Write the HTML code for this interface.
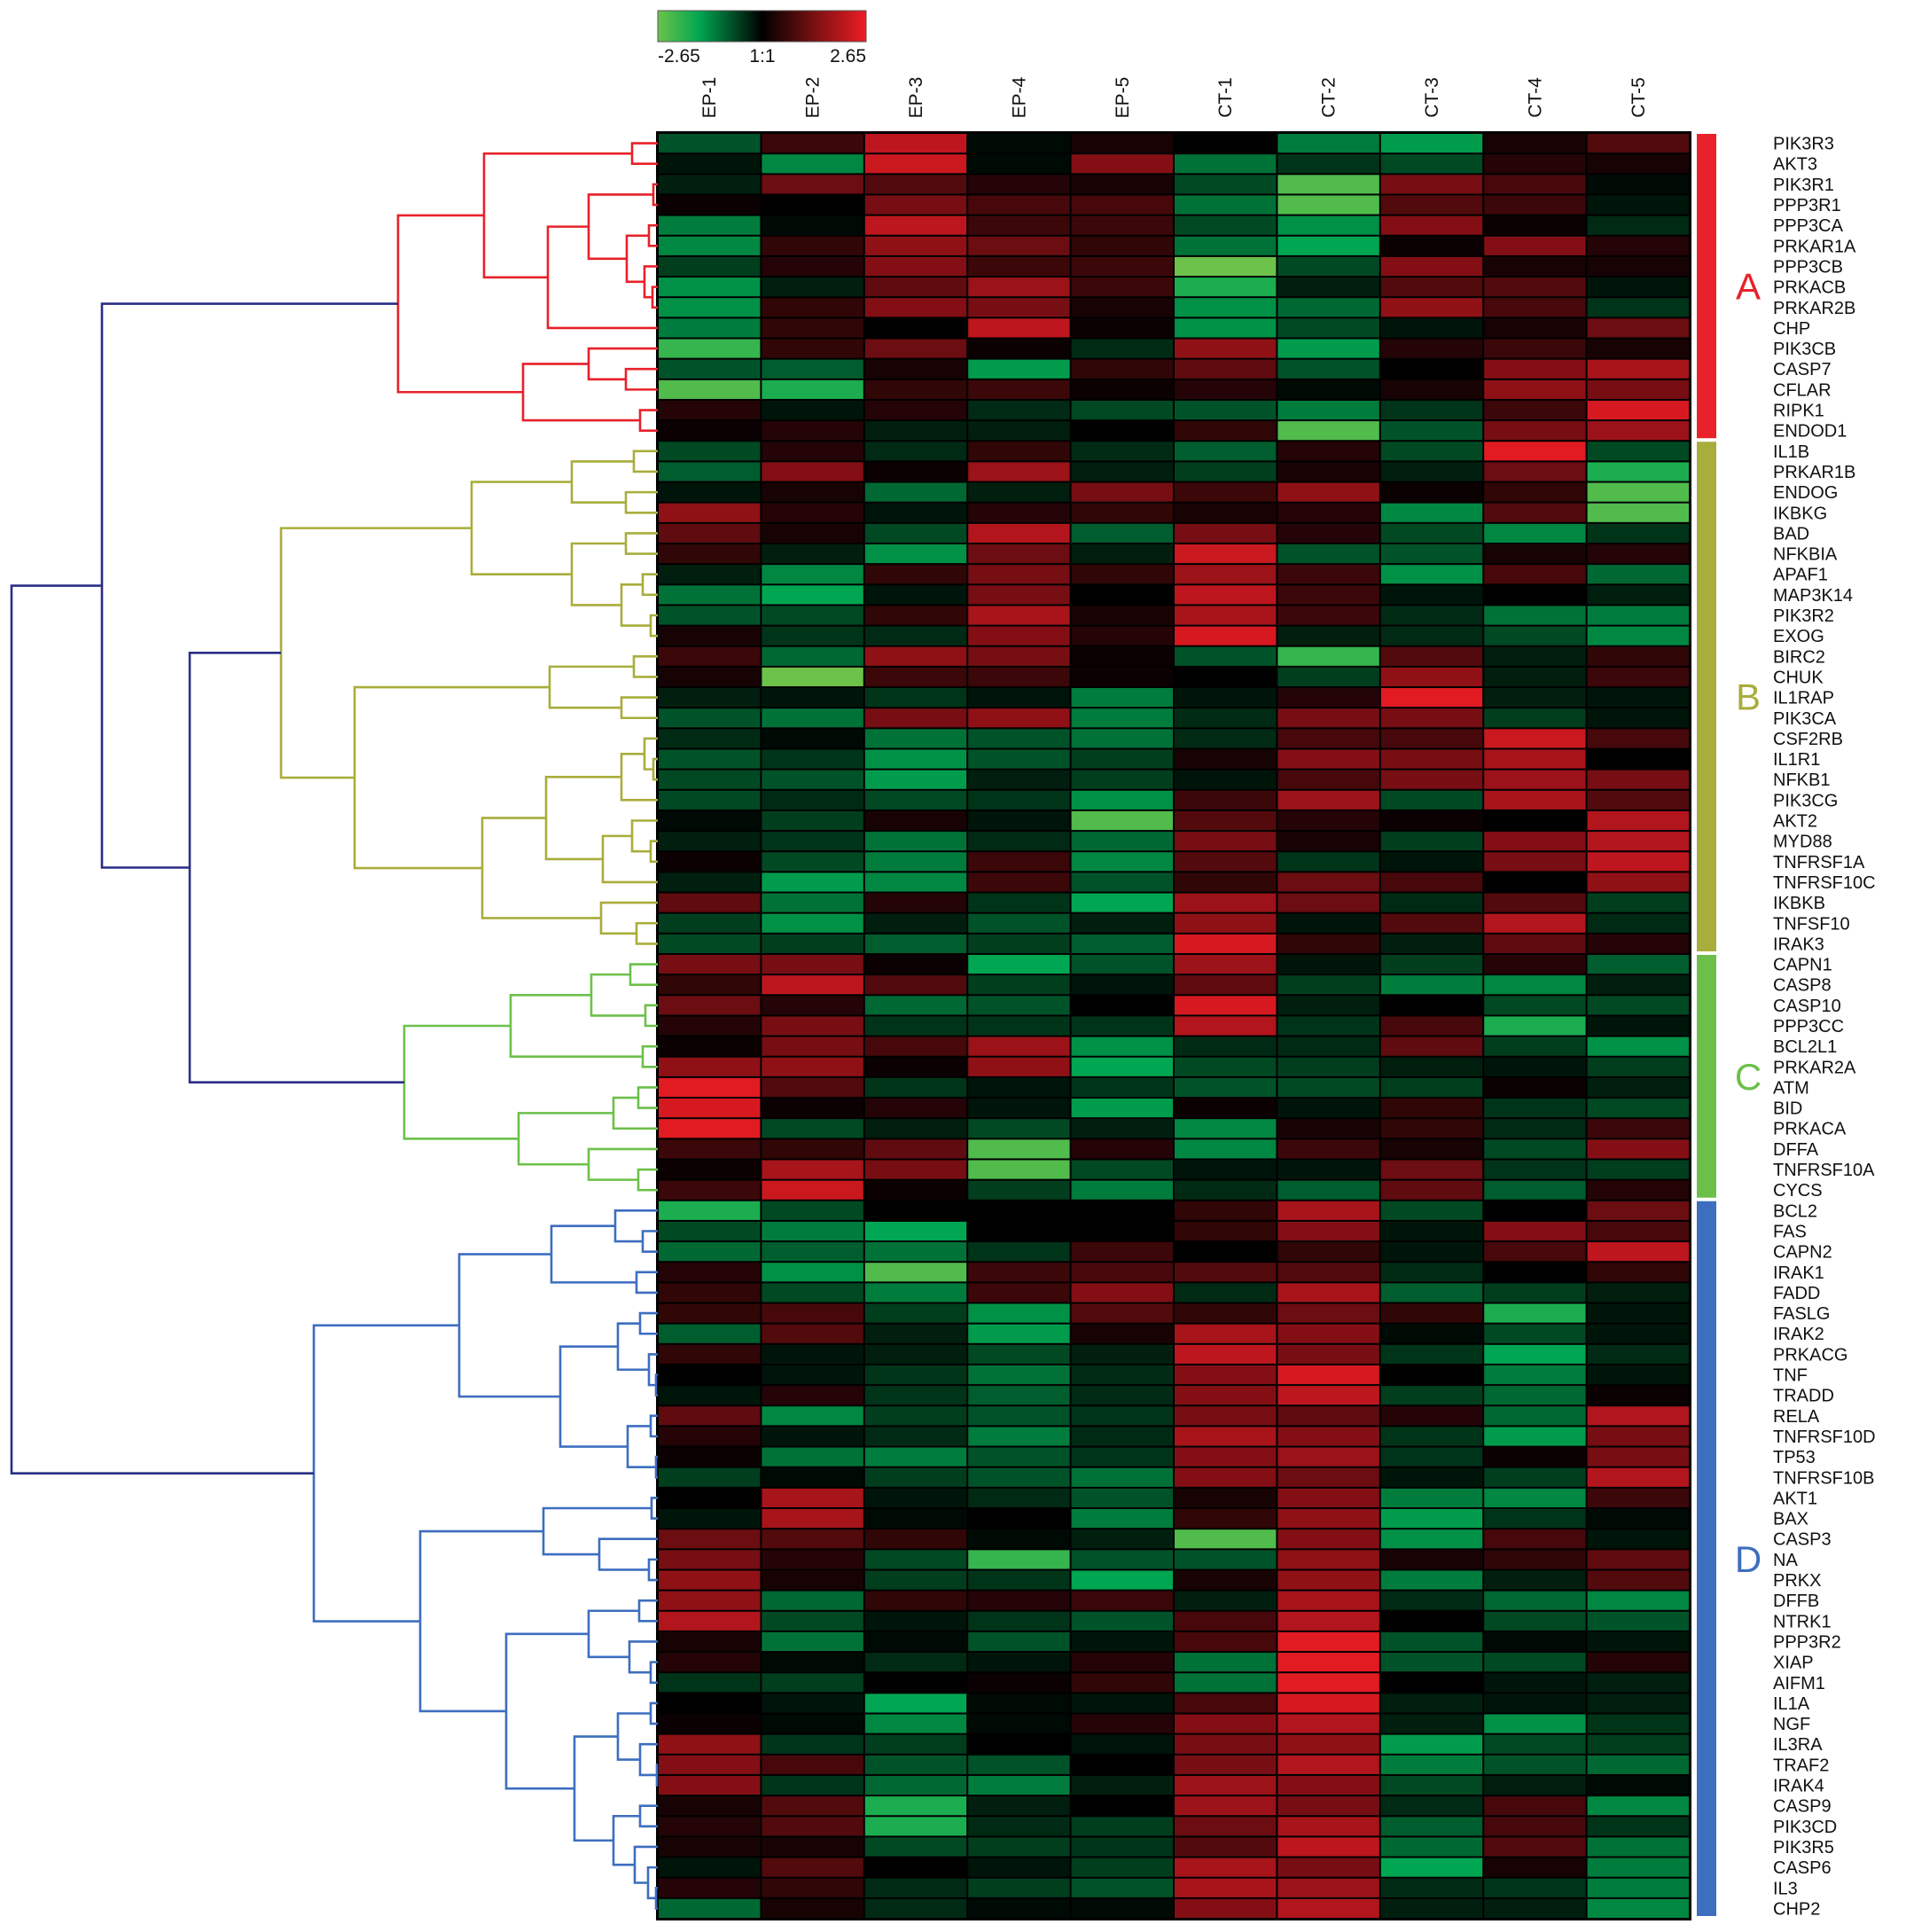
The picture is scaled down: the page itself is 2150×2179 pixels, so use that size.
<!DOCTYPE html>
<html><head><meta charset="utf-8"><style>
html,body{margin:0;padding:0;background:#fff;}
#wrap{position:relative;width:2150px;height:2179px;overflow:hidden;}
svg{position:absolute;left:0;top:0;}
text{font-family:"Liberation Sans",sans-serif;fill:#111;}
</style></head><body>
<div id="wrap">
<svg id="chart" width="2150" height="2179" xmlns="http://www.w3.org/2000/svg">
<defs><linearGradient id="cbar" x1="0" x2="1" y1="0" y2="0">
<stop offset="0" stop-color="#6cc24a"/><stop offset="0.2" stop-color="#00a651"/><stop offset="0.5" stop-color="#000"/><stop offset="0.75" stop-color="#771012"/><stop offset="1" stop-color="#ee1c25"/></linearGradient></defs>
<rect x="742" y="12" width="235" height="35" fill="url(#cbar)" stroke="#555" stroke-width="1"/>
<text x="742" y="70" font-size="21">-2.65</text>
<text x="860" y="70" font-size="21" text-anchor="middle">1:1</text>
<text x="977" y="70" font-size="21" text-anchor="end">2.65</text>
</svg></div>
<script>
const samples = ["EP-1","EP-2","EP-3","EP-4","EP-5","CT-1","CT-2","CT-3","CT-4","CT-5"];
const genes = ["PIK3R3","AKT3","PIK3R1","PPP3R1","PPP3CA","PRKAR1A","PPP3CB","PRKACB","PRKAR2B","CHP","PIK3CB","CASP7","CFLAR","RIPK1","ENDOD1",
"IL1B","PRKAR1B","ENDOG","IKBKG","BAD","NFKBIA","APAF1","MAP3K14","PIK3R2","EXOG","BIRC2","CHUK","IL1RAP","PIK3CA","CSF2RB","IL1R1","NFKB1","PIK3CG","AKT2","MYD88","TNFRSF1A","TNFRSF10C","IKBKB","TNFSF10","IRAK3",
"CAPN1","CASP8","CASP10","PPP3CC","BCL2L1","PRKAR2A","ATM","BID","PRKACA","DFFA","TNFRSF10A","CYCS",
"BCL2","FAS","CAPN2","IRAK1","FADD","FASLG","IRAK2","PRKACG","TNF","TRADD","RELA","TNFRSF10D","TP53","TNFRSF10B","AKT1","BAX","CASP3","NA","PRKX","DFFB","NTRK1","PPP3R2","XIAP","AIFM1","IL1A","NGF","IL3RA","TRAF2","IRAK4","CASP9","PIK3CD","PIK3R5","CASP6","IL3","CHP2"];
const values = [
[-.4,.25,.8,-.05,.1,0,-.6,-.75,.1,.35],
[-.1,-.65,.85,-.05,.55,-.55,-.25,-.35,.15,.1],
[-.15,.45,.35,.15,.1,-.35,-.95,.5,.3,-.05],
[.05,0,.5,.3,.3,-.55,-.95,.35,.25,-.1],
[-.6,-.05,.8,.25,.25,-.35,-.7,.55,.05,-.2],
[-.65,.2,.6,.45,.2,-.55,-.8,.05,.55,.15],
[-.3,.15,.55,.25,.25,-1,-.35,.55,.1,.1],
[-.7,-.15,.4,.65,.25,-.85,-.15,.35,.35,-.1],
[-.7,.2,.55,.5,.1,-.7,-.5,.6,.3,-.25],
[-.6,.2,0,.8,.05,-.7,-.35,-.1,.1,.45],
[-.9,.2,.45,.05,-.2,.6,-.75,.15,.25,.1],
[-.4,-.45,.1,-.75,.2,.4,-.4,0,.55,.7],
[-.95,-.85,.2,.25,.05,.15,-.05,.1,.6,.5],
[.15,-.1,.15,-.2,-.35,-.4,-.6,-.25,.25,.9],
[.05,.15,-.15,-.15,0,.2,-.95,-.4,.5,.65],
[-.35,.15,-.2,.2,-.2,-.45,.15,-.35,.95,-.35],
[-.45,.55,.05,.65,-.15,-.3,.1,-.15,.45,-.85],
[-.1,.1,-.5,-.15,.5,.25,.6,.05,.2,-.95],
[.6,.15,-.1,.15,.2,.1,.15,-.65,.35,-.95],
[.4,.1,-.35,.75,-.45,.5,.15,-.35,-.65,-.25],
[.2,-.15,-.7,.45,-.15,.85,-.4,-.4,.1,.15],
[-.15,-.65,.2,.5,.2,.65,.25,-.7,.3,-.5],
[-.55,-.8,-.1,.5,0,.8,.25,-.1,0,-.15],
[-.4,-.35,.2,.7,.1,.7,.25,-.2,-.55,-.6],
[.1,-.25,-.2,.55,.15,.9,-.15,-.2,-.35,-.65],
[.25,-.5,.6,.5,.05,-.4,-.9,.35,-.15,.2],
[.1,-1,.25,.25,.05,0,-.3,.6,-.15,.25],
[-.15,-.1,-.25,-.1,-.6,-.1,.15,.95,-.15,-.1],
[-.4,-.55,.5,.6,-.6,-.2,.5,.5,-.3,-.1],
[-.2,-.05,-.55,-.4,-.55,-.2,.3,.3,.85,.3],
[-.4,-.25,-.7,-.4,-.3,.1,.55,.5,.7,0],
[-.35,-.4,-.75,-.15,-.3,-.1,.3,.5,.65,.5],
[-.35,-.2,-.35,-.25,-.7,.25,.65,-.35,.7,.35],
[-.05,-.3,.1,-.1,-.95,.35,.15,.05,0,.75],
[-.15,-.25,-.55,-.2,-.5,.5,.1,-.3,.55,.75],
[.05,-.35,-.6,.25,-.65,.35,-.25,-.1,.5,.8],
[-.15,-.75,-.65,.25,-.4,.2,.45,.3,0,.6],
[.4,-.55,.15,-.25,-.8,.65,.45,-.2,.35,-.3],
[-.3,-.7,-.15,-.4,-.15,.6,-.1,.35,.75,-.2],
[-.35,-.3,-.45,-.3,-.45,.9,.2,-.15,.4,.15],
[.5,.5,.05,-.8,-.4,.65,-.1,-.3,.15,-.45],
[.2,.8,.35,-.3,-.1,.4,-.3,-.6,-.65,-.15],
[.45,.15,-.5,-.4,0,.9,-.15,0,-.35,-.35],
[.15,.5,-.25,-.25,-.25,.75,-.25,.3,-.85,-.1],
[.05,.5,.3,.65,-.7,-.2,-.2,.4,-.3,-.7],
[.6,.6,.05,.6,-.8,-.35,-.3,-.15,-.1,-.3],
[.95,.35,-.25,-.1,-.25,-.4,-.35,-.3,.05,-.15],
[.9,.05,.15,-.1,-.75,.05,-.1,.2,-.25,-.35],
[.95,-.35,-.15,-.35,-.15,-.65,.1,.2,-.2,.25],
[.25,.2,.4,-.95,.15,-.65,.25,.1,-.35,.55],
[.05,.7,.5,-.95,-.35,-.1,-.1,.45,-.25,-.3],
[.25,.85,.05,-.3,-.6,-.2,-.45,.4,-.45,.15],
[-.85,-.35,0,0,0,.2,.7,-.35,0,.45],
[-.35,-.6,-.8,0,0,.2,.55,-.1,.55,.3],
[-.5,-.45,-.55,-.25,.25,0,.2,-.1,.3,.8],
[.15,-.7,-.95,.25,.3,.35,.35,-.2,0,.2],
[.2,-.35,-.6,.25,.55,-.2,.7,-.45,-.3,-.15],
[.2,.3,-.3,-.7,.35,.2,.45,.2,-.85,-.1],
[-.45,.35,-.15,-.75,.1,.7,.55,-.05,-.35,-.1],
[.2,-.1,-.15,-.35,-.15,.8,.5,-.25,-.8,-.2],
[0,-.1,-.25,-.55,-.2,.55,.9,0,-.6,-.1],
[-.1,.15,-.25,-.45,-.2,.55,.8,-.3,-.5,.05],
[.4,-.65,-.3,-.4,-.25,.5,.4,.15,-.5,.75],
[.15,-.1,-.2,-.6,-.2,.7,.55,-.25,-.75,.5],
[.05,-.55,-.6,-.4,-.25,.55,.65,-.25,.05,.5],
[-.3,-.05,-.3,-.4,-.55,.55,.45,-.1,-.3,.75],
[0,.7,-.1,-.2,-.4,.1,.55,-.6,-.65,.25],
[-.1,.7,-.05,0,-.6,.2,.6,-.75,-.25,-.05],
[.45,.35,.2,-.05,-.15,-.95,.55,-.7,.3,-.1],
[.5,.15,-.35,-.9,-.4,-.4,.6,.1,.2,.4],
[.6,.1,-.3,-.25,-.8,.1,.6,-.6,-.15,.35],
[.6,-.5,.2,.15,.25,-.15,.7,-.2,-.5,-.65],
[.75,-.35,-.1,-.25,-.4,.3,.75,0,-.35,-.4],
[.1,-.55,-.05,-.4,-.1,.3,.95,-.4,-.05,-.1],
[.15,-.05,-.2,-.1,.15,-.55,.95,-.4,-.35,.15],
[-.25,-.3,0,.05,.2,-.55,.95,0,-.1,-.15],
[0,-.1,-.8,-.05,-.1,.3,.9,-.15,-.1,-.15],
[.05,-.05,-.65,-.05,.15,.55,.75,-.15,-.7,-.25],
[.6,-.25,-.3,0,-.1,.5,.6,-.75,-.35,-.3],
[.55,.3,-.4,-.4,0,.5,.75,-.6,-.4,-.5],
[.55,-.25,-.5,-.6,-.15,.65,.55,-.35,-.15,-.05],
[.1,.35,-.85,-.15,0,.65,.5,-.2,.3,-.65],
[.15,.35,-.85,-.2,-.3,.45,.7,-.45,.3,-.25],
[.1,.1,-.35,-.3,-.25,.35,.8,-.5,.35,-.55],
[-.1,.35,0,-.1,-.3,.7,.5,-.8,.1,-.6],
[.15,.2,-.2,-.3,-.4,.7,.65,-.2,-.25,-.6],
[-.5,.1,-.2,-.05,-.05,.55,.75,-.15,-.15,-.65]];
const clusterNames = ["A","B","C","D"];
const clusterStarts = [0,15,40,52];
const clusterEnds = [14,39,51,86];
const clusterColors = ["#e8212a","#a9ad3b","#6cc04a","#3d6ebf"];

const NS="http://www.w3.org/2000/svg";
const svg=document.getElementById('chart');
const X0=742,X1=1906,Y0=150,Y1=2164;
const colW=(X1-X0)/samples.length, rowH=(Y1-Y0)/genes.length;
const xCol=i=>X0+i*colW, yRow=i=>Y0+i*rowH;
function mk(tag,attrs){const e=document.createElementNS(NS,tag);for(const k in attrs)e.setAttribute(k,attrs[k]);svg.appendChild(e);return e;}
function lerp(a,b,t){return a.map((v,i)=>Math.round(v+(b[i]-v)*t));}
function color(v){
  if(v>=0){const t=Math.min(v,1);const c=lerp([0,0,0],[238,28,37],t);return `rgb(${c})`;}
  const t=Math.min(-v,1);
  const c=t<=0.8?lerp([0,0,0],[0,166,81],t/0.8):lerp([0,166,81],[108,194,74],(t-0.8)/0.2);
  return `rgb(${c})`;
}
// background grid
const bg=mk('rect',{x:X0-2,y:Y0-2,width:X1-X0+4,height:Y1-Y0+4,fill:'#000'});


for(let r=0;r<genes.length;r++){
  for(let c=0;c<samples.length;c++){
    const cell=mk('rect',{x:xCol(c)+1,y:yRow(r)+1,width:colW-2,height:rowH-2,fill:color(values[r][c])});
    
    
  }
  const t=mk('text',{x:2000,y:yRow(r)+rowH/2+7,'font-size':20});
  t.textContent=genes[r];
  
  
}
samples.forEach((s,i)=>{
  const cx=xCol(i)+colW/2;
  const t=mk('text',{x:0,y:0,'font-size':21,'text-anchor':'middle',transform:`translate(${cx+7},110) rotate(-90)`});
  t.textContent=s;
  
  
});
clusterNames.forEach((n,i)=>{
  const y0=yRow(clusterStarts[i])+1, y1=yRow(clusterEnds[i]+1)-3;
  const b=mk('rect',{x:1914,y:y0,width:22,height:y1-y0,fill:clusterColors[i]});
  
  
  const t=mk('text',{x:1972,y:(y0+y1)/2+15,'font-size':42,'text-anchor':'middle',fill:clusterColors[i],style:'fill:'+clusterColors[i]});
  t.textContent=n;
  
  
});
// dendrogram
const A=[449,[546,[713,0,1],[618,[664,[737,2,3],[707,[732,4,5],[727,6,[736,7,8]]]],9]],[590,[664,10,[706,11,12]],[722,13,14]]];
const B=[317,[532,[645,[715,15,16],[706,17,18]],[645,[706,19,20],[701,[725,21,22],[734,23,24]]]],[400,[620,[715,25,26],[701,27,28]],[544,[616,[701,[727,29,[737,30,31]],32],[680,[713,33,[734,34,35]],36]],[678,37,[718,38,39]]]]];
const C=[456,[576,[667,[711,40,41],[728,42,43]],[725,44,45]],[585,[692,[720,46,47],48],[664,49,[720,50,51]]]];
const D=[354,[518,[622,[694,52,[725,53,54]],[718,55,56]],[632,[697,[722,57,58],[732,59,[740,60,61]]],[708,[734,62,63],[740,64,65]]]],[474,[613,[735,66,67],[676,68,[732,69,70]]],[571,[664,[721,71,72],[710,73,[734,74,75]]],[648,[697,[734,76,77],[722,78,[741,79,80]]],[692,[722,81,82],[716,83,[731,84,[740,85,86]]]]]]]];
A.col=clusterColors[0];B.col=clusterColors[1];C.col=clusterColors[2];D.col=clusterColors[3];
const navy="#2a2d86";
const mid=[214,B,C];mid.col=navy;const up=[115,A,mid];up.col=navy;const root=[13,up,D];root.col=navy;
function setCol(n,c){if(typeof n==='number')return;if(!n.col)n.col=c;setCol(n[1],n.col);setCol(n[2],n.col);}
setCol(root,navy);
function draw(n){
  if(typeof n==='number')return {x:X0,y:yRow(n)+rowH/2};
  const a=draw(n[1]),b=draw(n[2]);const x=n[0];
  const p=mk('path',{d:`M${a.x},${a.y}H${x}V${b.y}H${b.x}`,fill:'none',stroke:n.col,'stroke-width':2.6});
  
  
  return {x:x,y:(a.y+b.y)/2};
}
draw(root);
</script>
</body></html>
